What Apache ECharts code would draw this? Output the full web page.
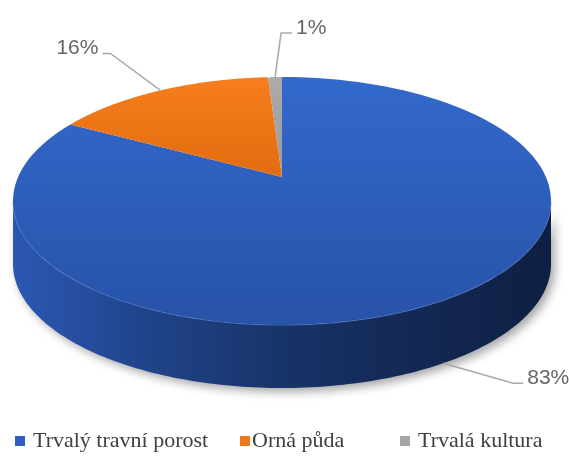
<!DOCTYPE html>
<html>
<head>
<meta charset="utf-8">
<script src="https://cdn.jsdelivr.net/npm/echarts@6/dist/echarts.min.js"></script>
<style>html,body{margin:0;padding:0;background:#fff}#c{width:569px;height:464px}</style>
</head>
<body>
<div id="c"></div>
<script>
const categories = ['Trvalý travní porost', 'Orná půda', 'Trvalá kultura'];
const values = [83, 16, 1];

const topColors = [
  {type:'linear',x:0,y:0,x2:0,y2:1,colorStops:[{offset:0,color:'#3368cc'},{offset:1,color:'#2753a8'}]},
  {type:'linear',x:0,y:0,x2:0,y2:1,colorStops:[{offset:0,color:'#f67e1e'},{offset:1,color:'#e26c0e'}]},
  {type:'linear',x:0,y:0,x2:0,y2:1,colorStops:[{offset:0,color:'#ababab'},{offset:1,color:'#9a9a9a'}]}
];
const legendColors = ['#2e5fc0', '#f0781a', '#a5a5a5'];

// geometry (layout)
const G = {cx: 282, cy: 201, a: 269, b: 124, e: 24, depth: 63};
const r = G.e / G.b;
const s = G.a * Math.sqrt(1 - r * r);
function P(phi, dy) {
  const x = Math.cos(phi), y = Math.sin(phi);
  const w = 1 + r * y;
  return [G.cx + s * x / w, G.cy - G.b * (y + r) / w + (dy || 0)];
}
const sum = values.reduce((p, c) => p + c, 0);
const cum = [0];
values.forEach((v, i) => cum.push(cum[i] + v));
function thetaOf(f) { return f / sum * Math.PI * 2; }
function phiOf(theta) { return Math.PI / 2 - theta; }

const labelCfg = [
  {onSide: true, d1: [70, 20], d2: [10, 0], align: 'left'},
  {onSide: false, d1: [-50, -37], d2: [-8, 0], align: 'right'},
  {onSide: false, d1: [6, -44], d2: [11, 0], align: 'left'}
];

function sliceRender(i) {
  return function (params, api) {
    const t0 = thetaOf(cum[i]), t1 = thetaOf(cum[i + 1]);
    const N = 120;
    const pts = [[G.cx, G.cy - G.e]];
    for (let k = 0; k <= N; k++) {
      const t = t0 + (t1 - t0) * k / N;
      pts.push(P(phiOf(t)));
    }
    const tm = (t0 + t1) / 2;
    const cfg = labelCfg[i];
    const anchor = P(phiOf(tm), cfg.onSide ? G.depth : 0);
    const p1 = [anchor[0] + cfg.d1[0], anchor[1] + cfg.d1[1]];
    const p2 = [p1[0] + cfg.d2[0], p1[1] + cfg.d2[1]];
    const txt = Math.round(values[i] / sum * 100) + '%';
    return {
      type: 'group',
      children: [
        {type: 'polygon', shape: {points: pts}, style: {fill: topColors[i], stroke: null}, z2: 1},
        {type: 'polyline', shape: {points: [anchor, p1, p2]}, style: {stroke: '#a8a8a8', lineWidth: 1.5, fill: null}, z2: 5},
        {type: 'text', style: {text: txt, x: p2[0] + (cfg.align === 'left' ? 4 : -4), y: p2[1] - 5,
          fill: '#666666', font: '21px "Liberation Sans"', align: cfg.align, verticalAlign: 'middle'}, z2: 6}
      ]
    };
  };
}

function sideRender(params, api) {
  const a0 = -Math.asin(r);
  const a1 = -Math.PI - a0;
  const N = 160;
  const topPts = [], botPts = [];
  for (let k = 0; k <= N; k++) {
    const phi = a0 + (a1 - a0) * k / N;
    topPts.push(P(phi));
    botPts.push(P(phi, G.depth));
  }
  const poly = topPts.concat(botPts.reverse());
  return {
    type: 'group',
    children: [
      {type: 'polygon', shape: {points: poly},
        style: {fill: {type:'linear',x:0,y:0,x2:1,y2:0,colorStops:[
          {offset:0,color:'#2b58b4'},{offset:0.22,color:'#21468e'},{offset:0.5,color:'#183368'},
          {offset:0.8,color:'#122650'},{offset:1,color:'#0e1f42'}]},
          shadowBlur: 10, shadowColor: 'rgba(0,0,0,0.35)', shadowOffsetX: 4, shadowOffsetY: 4}},
      {type: 'polyline', shape: {points: topPts}, style: {stroke: 'rgba(110,150,225,0.55)', lineWidth: 1.2, fill: null}}
    ]
  };
}

const series = [{
  type: 'custom', name: 'side', coordinateSystem: 'none', data: [0], z: 1,
  renderItem: sideRender, silent: true
}];
categories.forEach((name, i) => {
  series.push({
    type: 'custom', name: name, coordinateSystem: 'none', data: [0], z: 2 + i,
    itemStyle: {color: legendColors[i]},
    renderItem: sliceRender(i)
  });
});

const legendLeft = [15, 240, 400];
const legendPad = [3, -3, 3];
const legend = categories.map((name, i) => ({
  data: [name], left: legendLeft[i], top: 430, padding: 0, icon: 'rect', itemWidth: 10, itemHeight: 10,
  selectedMode: false,
  textStyle: {fontFamily: 'Liberation Serif', fontSize: 22, color: '#404040', padding: [0, 0, 0, legendPad[i]]}
}));

const chart = echarts.init(document.getElementById('c'), null, {renderer: 'canvas'});
chart.setOption({
  animation: false,
  backgroundColor: '#ffffff',
  legend: legend,
  series: series
});
</script>
</body>
</html>
